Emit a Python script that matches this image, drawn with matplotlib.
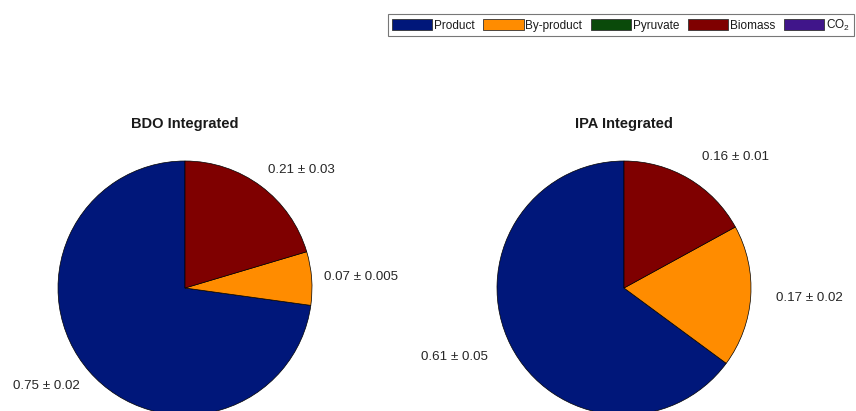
import matplotlib.pyplot as plt
from matplotlib.patches import Patch

plt.rcParams['font.family'] = ['Liberation Sans', 'DejaVu Sans']
plt.rcParams['mathtext.fontset'] = 'custom'
plt.rcParams['mathtext.rm'] = 'Liberation Sans'
plt.rcParams['mathtext.it'] = 'Liberation Sans'

# carbon fractions (mean and error), order: Product, By-product, Pyruvate, Biomass, CO2
categories = ['Product', 'By-product', 'Pyruvate', 'Biomass', 'CO$_2$']
colors = ['#00177a', '#ff8c00', '#0a4a0a', '#7f0000', '#40158a']

bdo_mean = [0.75, 0.07, 0.0, 0.21, 0.0]
bdo_err = [0.02, 0.005, 0.0, 0.03, 0.0]
ipa_mean = [0.61, 0.17, 0.0, 0.16, 0.0]
ipa_err = [0.05, 0.02, 0.0, 0.01, 0.0]

fig = plt.figure(figsize=(8.56, 4.11), dpi=100)
W, H = 856, 411
R = 127  # pie radius in pixels
side = 2.5 * R


def draw_pie(cx, cy, title, means, errs, labeldist, shift_va):
    ax = fig.add_axes([(cx - side / 2) / W, (H - cy - side / 2) / H, side / W, side / H])
    vals = [m for m in means if m > 0]
    cols = [c for m, c in zip(means, colors) if m > 0]
    labs = [f'{m:.2f} \u00b1 {e:g}' for m, e in zip(means, errs) if m > 0]
    wedges, texts = ax.pie(vals, colors=cols, labels=labs, startangle=90,
                           counterclock=True, labeldistance=labeldist,
                           wedgeprops=dict(edgecolor='black', linewidth=0.5),
                           textprops=dict(fontsize=9.6, color='#262626'))
    for t in texts:
        x, y = t.get_position()
        s = y / (x ** 2 + y ** 2) ** 0.5
        if shift_va and s > 0.5:
            t.set_va('bottom')
        elif shift_va and s < -0.5:
            t.set_va('top')
    ax.set_xlim(-1.25, 1.25)
    ax.set_ylim(-1.25, 1.25)
    ax.set_aspect('equal')
    fig.text(cx / W, 1 - 124 / H, title, ha='center', va='center',
             fontsize=10.5, fontweight='bold', color='#1a1a1a')


draw_pie(185, 288, 'BDO Integrated', bdo_mean, bdo_err, 1.1, True)
draw_pie(624, 288, 'IPA Integrated', ipa_mean, ipa_err, 1.2, False)

handles = [Patch(facecolor=c, edgecolor='#333333', linewidth=0.6) for c in colors]
leg = fig.legend(handles, categories, loc='upper left', bbox_to_anchor=(388 / W, 1 - 14 / H),
                 ncol=5, fontsize=8.5, frameon=True, fancybox=False, borderpad=0.3,
                 handlelength=3.45, handleheight=0.95, handletextpad=0.15,
                 columnspacing=0.7, borderaxespad=0)
leg.get_frame().set_edgecolor('#555555')
leg.get_frame().set_linewidth(0.8)
for t in leg.get_texts():
    t.set_color('#1a1a1a')

fig.savefig('out.png', dpi=100)
